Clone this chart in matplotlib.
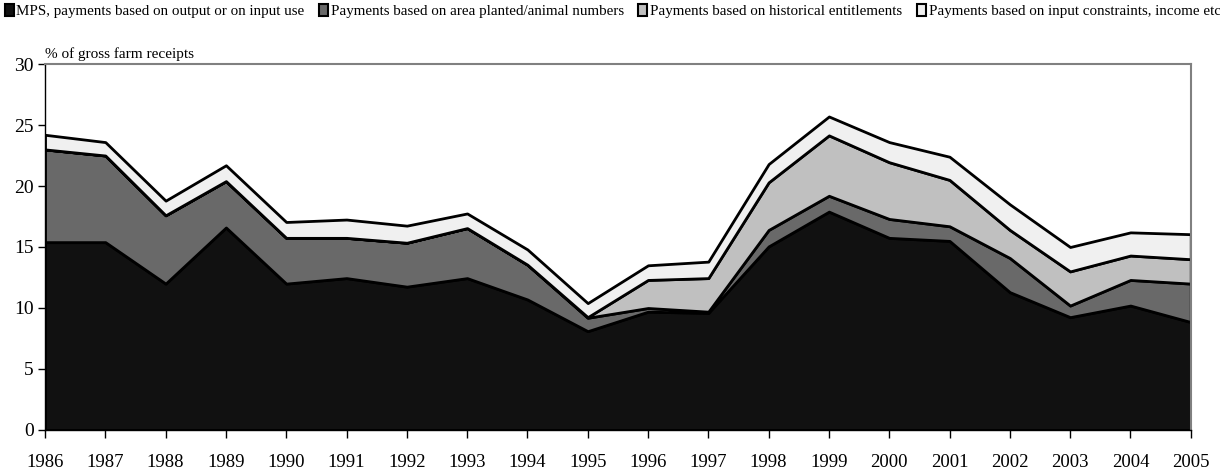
import matplotlib
matplotlib.use("Agg")
import matplotlib.pyplot as plt
from matplotlib.patches import Patch
import numpy as np

years = list(range(1986, 2006))
mps = [15.4, 15.4, 12.0, 16.6, 12.0, 12.45, 11.75, 12.45, 10.7, 8.1,
       9.7, 9.6, 15.05, 17.9, 15.75, 15.5, 11.3, 9.25, 10.2, 8.85]
area = [7.6, 7.1, 5.6, 3.8, 3.75, 3.3, 3.6, 4.1, 2.85, 1.1,
        0.3, 0.1, 1.35, 1.3, 1.55, 1.2, 2.8, 0.95, 2.1, 3.15]
hist = [0, 0, 0, 0, 0, 0, 0, 0, 0, 0.05,
        2.3, 2.75, 3.9, 4.95, 4.65, 3.8, 2.3, 2.8, 2.0, 2.0]
other = [1.2, 1.1, 1.2, 1.3, 1.3, 1.5, 1.4, 1.2, 1.25, 1.15,
         1.2, 1.35, 1.5, 1.55, 1.65, 1.9, 2.1, 2.0, 1.9, 2.05]
labels = ["MPS, payments based on output or on input use",
          "Payments based on area planted/animal numbers",
          "Payments based on historical entitlements",
          "Payments based on input constraints, income etc"]
colors = ["#111111", "#696969", "#c0c0c0", "#f0f0f0"]

plt.rcParams['font.family'] = ['Liberation Serif', 'DejaVu Serif']

fig = plt.figure(figsize=(12.2, 4.69), dpi=100)
ax = fig.add_axes([0.0369, 0.0832, 0.976 - 0.0369, 0.8635 - 0.0832])

ax.stackplot(years, mps, area, hist, other, colors=colors,
             edgecolor="black", linewidth=2)

ax.set_xlim(1986, 2005)
ax.set_ylim(0, 30)
ax.set_xticks(years)
ax.set_xticklabels([str(y) for y in years], fontsize=13.5)
ax.set_yticks([0, 5, 10, 15, 20, 25, 30])
ax.set_yticklabels(["0", "5", "10", "15", "20", "25", "30"], fontsize=14)
ax.tick_params(axis='x', direction='out', length=6, pad=11, width=1)
ax.tick_params(axis='y', direction='out', length=5, pad=3, width=1)
for s in ['top', 'right']:
    ax.spines[s].set_color('#808080')
    ax.spines[s].set_linewidth(1.5)
for s in ['left', 'bottom']:
    ax.spines[s].set_color('black')
    ax.spines[s].set_linewidth(1)

ax.text(0.0, 1.008, "% of gross farm receipts", transform=ax.transAxes,
        fontsize=11, ha='left', va='bottom')

handles = [Patch(facecolor=c, edgecolor='black', linewidth=1.5) for c in colors]
fig.legend(handles, labels, loc='upper left', bbox_to_anchor=(0.0, 1.0),
           ncol=4, frameon=False, fontsize=10.8, handlelength=0.6,
           handleheight=0.8, handletextpad=0.2, columnspacing=0.95,
           borderaxespad=0.0, borderpad=0.3)

fig.savefig("out.png", dpi=100)
